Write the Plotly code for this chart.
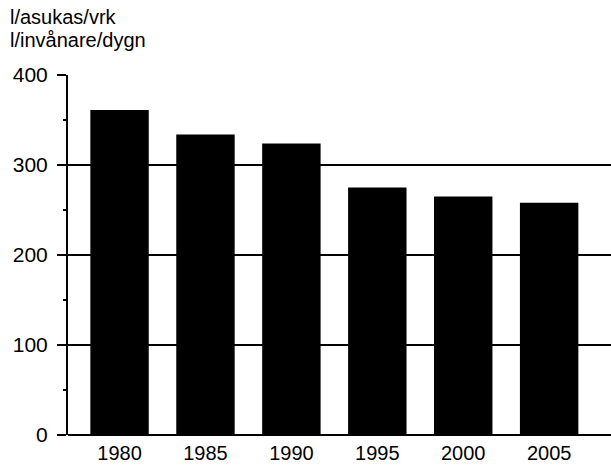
import plotly.graph_objects as go

years = ["1980", "1985", "1990", "1995", "2000", "2005"]
values = [361, 334, 324, 275, 265, 258]
unit_line1 = "l/asukas/vrk"
unit_line2 = "l/invånare/dygn"

W, H = 611, 465
L, R, T, B = 68, 0, 75, 30
pw = W - L - R
ph = H - T - B

fig = go.Figure(go.Bar(
    x=list(range(len(years))), y=values,
    marker=dict(color="black", line=dict(width=0)),
    width=0.68,
    hoverinfo="skip",
))

font = dict(family="Liberation Sans, Arial, sans-serif", color="black")


def ypix(py):
    # paper y coordinate for a pixel row measured from the top of the page
    return 1 + (T - py) / ph


fig.update_layout(
    width=W, height=H,
    margin=dict(l=L, r=R, t=T, b=B, pad=0, autoexpand=False),
    paper_bgcolor="white", plot_bgcolor="white",
    showlegend=False,
    font=dict(**font, size=20),
    xaxis=dict(
        range=[-0.6, 5.72], automargin=False,
        tickmode="array", tickvals=list(range(len(years))), ticktext=years,
        showgrid=False, zeroline=False, ticks="",
        showline=False, ticklabelstandoff=4,
        tickfont=dict(**font, size=20),
    ),
    yaxis=dict(
        range=[0, 400], automargin=False,
        tickmode="array", tickvals=[0, 100, 200, 300, 400],
        showgrid=True, gridcolor="black", gridwidth=2,
        zeroline=True, zerolinecolor="black", zerolinewidth=2,
        showline=True, linecolor="black", linewidth=2,
        ticks="outside", ticklen=9, tickwidth=2, tickcolor="black",
        ticklabelstandoff=5,
        minor=dict(tickvals=[50, 150, 250, 350], ticks="outside", ticklen=3,
                   tickwidth=1.5, tickcolor="black", showgrid=False),
        tickfont=dict(**font, size=21),
    ),
    annotations=[
        dict(text=unit_line1, xref="paper", yref="paper",
             x=(8 - L) / pw, y=ypix(30),
             xanchor="left", yanchor="bottom", showarrow=False,
             font=dict(**font, size=20)),
        dict(text=unit_line2, xref="paper", yref="paper",
             x=(8 - L) / pw, y=ypix(53),
             xanchor="left", yanchor="bottom", showarrow=False,
             font=dict(**font, size=20)),
    ],
)

fig.write_html(
    "out.html",
    config={"displayModeBar": False, "staticPlot": True},
    post_script="document.body.style.margin='0';document.body.style.overflow='hidden';",
)
